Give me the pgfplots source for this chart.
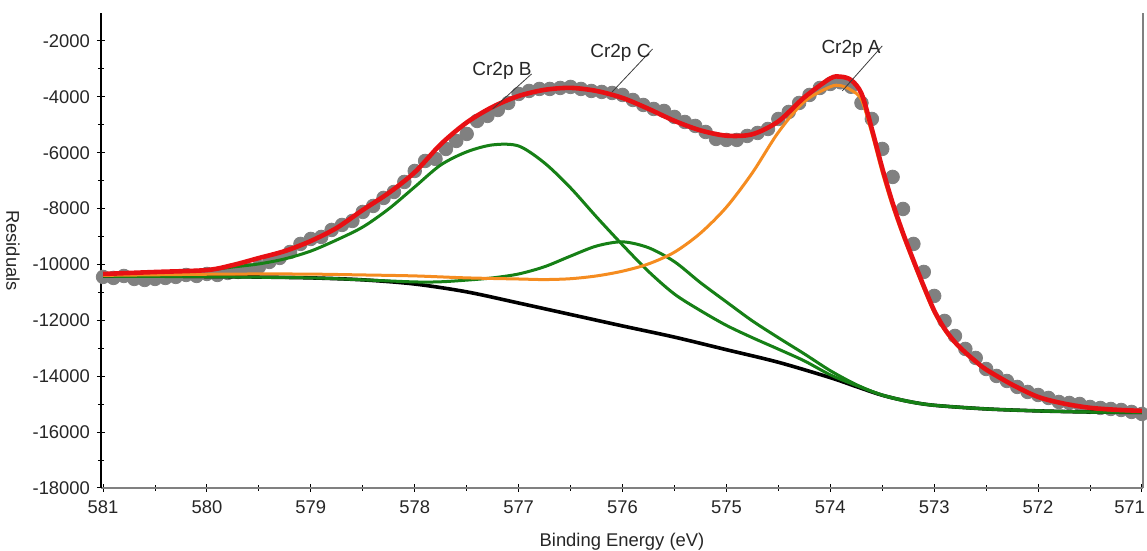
\documentclass[border=0pt]{standalone}
\usepackage{fontspec}
\setmainfont{Liberation Sans}
\usepackage{pgfplots}
\pgfplotsset{compat=1.18}

\definecolor{dotgray}{RGB}{128,128,128}
\definecolor{fitred}{RGB}{232,16,20}
\definecolor{peakgreen}{RGB}{22,128,22}
\definecolor{peakorange}{RGB}{245,140,32}
\definecolor{annot}{RGB}{60,60,60}

\begin{document}
\begin{tikzpicture}
\begin{axis}[
  name=ax,
  scale only axis,
  width=521pt, height=237.5pt,
  x dir=reverse,
  xmin=570.99, xmax=581.02,
  ymin=-18000, ymax=-1000,
  scaled ticks=false,
  axis x line*=bottom,
  axis y line*=left,
  x axis line style={draw=dotgray, line width=1.4pt},
  y axis line style={draw=black, line width=0.7pt},
  xtick={571,572,573,574,575,576,577,578,579,580,581},
  xticklabels={\llap{571\hspace{-1.5pt}},572,573,574,575,576,577,578,579,580,581},
  ytick={-18000,-16000,-14000,-12000,-10000,-8000,-6000,-4000,-2000},
  yticklabels={-18000,-16000,-14000,-12000,-10000,-8000,-6000,-4000,-2000},
  minor x tick num=1,
  minor y tick num=1,
  tick align=center,
  major tick length=4pt,
  minor tick length=3pt,
  tick style={black, line width=0.5pt},
  ticklabel style={font=\fontsize{9.2}{10}\selectfont, text=black!85},
  xticklabel style={yshift=-1pt},
  every axis y label/.style={at={(rel axis cs:0,0.5)}, xshift=-44pt, rotate=-90, anchor=center},
  every axis x label/.style={at={(rel axis cs:0.5,0)}, yshift=-27pt, anchor=center},
  label style={font=\fontsize{9.2}{10}\selectfont, text=black!85},
  xlabel={Binding Energy (eV)},
  ylabel={Residuals},
  clip=false,
  clip marker paths=true,
]

% measured counts
\addplot[only marks, mark=*, mark size=3.4pt, color=dotgray, mark options={draw=none, fill=dotgray}]
coordinates {
(581.0,-10446) (580.9,-10482) (580.8,-10411) (580.7,-10518) (580.6,-10554)
(580.5,-10518) (580.4,-10482) (580.3,-10446) (580.2,-10375) (580.1,-10411)
(580.0,-10339) (579.9,-10375) (579.8,-10303) (579.7,-10267) (579.6,-10196)
(579.5,-10089) (579.4,-9910) (579.3,-9766) (579.2,-9552) (579.1,-9265)
(579.0,-9086) (578.9,-9015) (578.8,-8764) (578.7,-8585) (578.6,-8442)
(578.5,-8120) (578.4,-7905) (578.3,-7619) (578.2,-7404) (578.1,-7046)
(578.0,-6653) (577.9,-6295) (577.8,-6223) (577.7,-5865) (577.6,-5579)
(577.5,-5328) (577.4,-4863) (577.3,-4684) (577.2,-4470) (577.1,-4219)
(577.0,-3897) (576.9,-3790) (576.8,-3718) (576.7,-3718) (576.6,-3682)
(576.5,-3646) (576.4,-3718) (576.3,-3790) (576.2,-3825) (576.1,-3861)
(576.0,-3933) (575.9,-4112) (575.8,-4291) (575.7,-4434) (575.6,-4505)
(575.5,-4720) (575.4,-4899) (575.3,-5042) (575.2,-5257) (575.1,-5507)
(575.0,-5543) (574.9,-5543) (574.8,-5400) (574.7,-5293) (574.6,-5150)
(574.5,-4792) (574.4,-4541) (574.3,-4219) (574.2,-3933) (574.1,-3682)
(574.0,-3540) (573.9,-3480) (573.8,-3640) (573.7,-4219) (573.6,-4792)
(573.5,-5865) (573.4,-6867) (573.3,-8013) (573.2,-9265) (573.1,-10267)
(573.0,-11126) (572.9,-12021) (572.8,-12558) (572.7,-13023) (572.6,-13345)
(572.5,-13739) (572.4,-13990) (572.3,-14169) (572.2,-14383) (572.1,-14562)
(572.0,-14670) (571.9,-14777) (571.8,-14920) (571.7,-14956) (571.6,-14992)
(571.5,-15099) (571.4,-15135) (571.3,-15171) (571.2,-15207) (571.1,-15278)
(571.0,-15350)
};

% Shirley background
\addplot[black, line width=1.8pt, smooth, tension=0.5] coordinates {
(581,-10410) (580.5,-10410) (580,-10430) (579.5,-10450) (579,-10480)
(578.5,-10550) (578,-10700) (577.5,-10980) (577,-11380) (576.5,-11790)
(576,-12200) (575.5,-12600) (575,-13050) (574.5,-13500) (574,-14050)
(573.75,-14370) (573.5,-14680) (573.25,-14900) (573,-15040) (572.5,-15170)
(572,-15240) (571.5,-15280) (571,-15290)
};

% Cr2p C component
\addplot[peakgreen, line width=1.5pt, smooth, tension=0.5] coordinates {
(581,-10420) (580,-10440) (579,-10480) (578.5,-10550) (578,-10625)
(577.75,-10620) (577.5,-10560) (577.25,-10480) (577,-10340) (576.75,-10080)
(576.5,-9700) (576.25,-9340) (576,-9190) (575.75,-9400) (575.5,-9900)
(575.25,-10650) (575,-11340) (574.75,-12020) (574.5,-12620) (574.25,-13200)
(574,-13800) (573.75,-14300) (573.5,-14680) (573.25,-14910) (573,-15040)
(572.5,-15170) (572,-15240) (571.5,-15280) (571,-15290)
};

% Cr2p B component
\addplot[peakgreen, line width=1.5pt, smooth, tension=0.5] coordinates {
(581,-10410) (580.5,-10340) (580,-10200) (579.75,-10090) (579.5,-9980)
(579.25,-9800) (579,-9520) (578.75,-9120) (578.5,-8660) (578.25,-8010)
(578,-7225) (577.75,-6440) (577.5,-5970) (577.25,-5720) (577,-5760)
(576.75,-6370) (576.5,-7260) (576.25,-8300) (576,-9300) (575.75,-10250)
(575.5,-11060) (575.25,-11650) (575,-12180) (574.75,-12620) (574.5,-13030)
(574.25,-13450) (574,-13950) (573.75,-14330) (573.5,-14670) (573.25,-14890)
(573,-15040) (572.5,-15170) (572,-15240) (571.5,-15280) (571,-15290)
};

% Cr2p A component
\addplot[peakorange, line width=1.5pt, smooth, tension=0.5] coordinates {
(581,-10390) (580.5,-10370) (580,-10350) (579.5,-10340) (579,-10345)
(578.5,-10375) (578,-10410) (577.5,-10480) (577,-10520) (576.75,-10540)
(576.5,-10510) (576.25,-10410) (576,-10240) (575.75,-9980) (575.5,-9560)
(575.25,-8880) (575,-7950) (574.75,-6720) (574.5,-5270) (574.25,-4170)
(574,-3640) (573.9,-3600) (573.8,-3760) (573.7,-4100) (573.6,-5300)
(573.5,-6700) (573.4,-7920) (573.3,-8970) (573.2,-9930) (573.1,-10860)
(573,-11720) (572.9,-12350) (572.8,-12820) (572.7,-13180) (572.6,-13500)
(572.5,-13780) (572.25,-14320) (572,-14760) (571.75,-14990) (571.5,-15140)
(571.25,-15210) (571,-15250)
};

% envelope of the fit
\addplot[fitred, line width=2.3pt, smooth, tension=0.5] coordinates {
(581,-10340) (580.5,-10270) (580,-10200) (579.75,-10020) (579.5,-9770)
(579.25,-9520) (579,-9160) (578.75,-8690) (578.5,-8050) (578.25,-7440)
(578,-6700) (577.75,-5700) (577.5,-4920) (577.25,-4360) (577,-3970)
(576.75,-3750) (576.5,-3680) (576.25,-3790) (576,-4040) (575.75,-4430)
(575.5,-4860) (575.25,-5200) (575,-5390) (574.75,-5340) (574.5,-4880)
(574.25,-4020) (574,-3340) (573.9,-3280) (573.8,-3400) (573.7,-3880)
(573.6,-5150) (573.5,-6550) (573.4,-7800) (573.3,-8880) (573.2,-9850)
(573.1,-10780) (573,-11650) (572.9,-12300) (572.8,-12780) (572.7,-13150)
(572.6,-13470) (572.5,-13760) (572.25,-14300) (572,-14740) (571.75,-14980)
(571.5,-15130) (571.25,-15200) (571,-15240)
};

% right frame line
\draw[dotgray, line width=0.8pt] (rel axis cs:1,0) -- (rel axis cs:1,1);

% peak labels with leader lines
\draw[annot, line width=0.4pt] (axis cs:576.875,-3181) -- (axis cs:577.25,-4434);
\draw[annot, line width=0.4pt] (axis cs:575.71,-2286) -- (axis cs:576.10,-3825);
\draw[annot, line width=0.4pt] (axis cs:573.5,-2179) -- (axis cs:573.885,-3790);
\node[font=\fontsize{9.5}{11}\selectfont, text=black!85] at (axis cs:577.16,-3074) {Cr2p B};
\node[font=\fontsize{9.5}{11}\selectfont, text=black!85] at (axis cs:576.02,-2430) {Cr2p C};
\node[font=\fontsize{9.5}{11}\selectfont, text=black!85] at (axis cs:573.80,-2286) {Cr2p A};
\end{axis}
\pgfresetboundingbox
\path[use as bounding box] (ax.south west) ++(-50.5pt,-31.5pt) rectangle ++(573.5pt,275.5pt);
\end{tikzpicture}
\end{document}
